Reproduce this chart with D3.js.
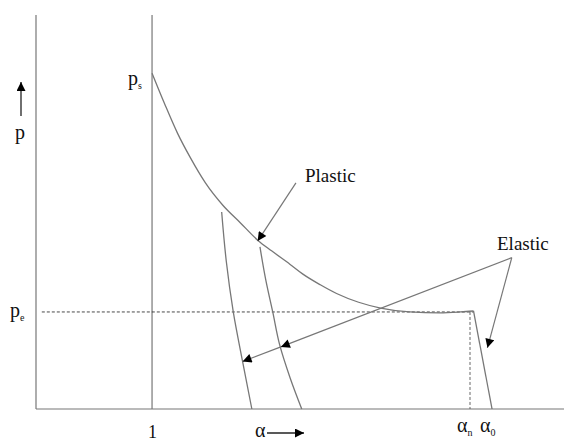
<!DOCTYPE html>
<html>
<head>
<meta charset="utf-8">
<script src="https://cdn.jsdelivr.net/npm/d3@7"></script>
<style>
  body { margin: 0; background: #fff; }
  text { font-family: "Liberation Serif", "Times New Roman", serif; fill: #111; }
</style>
</head>
<body>
<script>

var width = 565,
    height = 441;

// plastic loading curve (alpha, p)
var plasticAlpha = [1.00, 1.11, 1.22, 1.33, 1.46, 1.61, 1.76, 1.91, 2.03, 2.19, 2.30, 2.45, 2.59, 2.78, 2.97, 3.22, 3.48, 3.66, 3.77];
var plasticP     = [3.46, 3.14, 2.84, 2.59, 2.33, 2.10, 1.92, 1.74, 1.63, 1.49, 1.39, 1.28, 1.19, 1.10, 1.04, 1.00, 0.99, 1.00, 1.01];

// elastic unloading curves
var unload1Alpha = [1.60, 1.64, 1.70, 1.78, 1.86];
var unload1P     = [2.03, 1.52, 1.00, 0.49, 0.00];
var unload2Alpha = [1.93, 1.98, 2.04, 2.10, 2.19, 2.29];
var unload2P     = [1.67, 1.33, 1.00, 0.66, 0.32, 0.00];
var unload3Alpha = [3.77, 3.93];
var unload3P     = [1.01, 0.00];

var pE = 1.0, pS = 3.46, alphaN = 3.74, alphaZero = 3.93;

var x = d3.scaleLinear().domain([0, 4.55]).range([36, 564]);
var y = d3.scaleLinear().domain([0, 4.06]).range([409, 15]);

var svg = d3.select("body").append("svg")
    .attr("width", width)
    .attr("height", height);

svg.append("defs").append("marker")
    .attr("id", "head")
    .attr("viewBox", "0 0 10 10")
    .attr("refX", 10).attr("refY", 5)
    .attr("markerWidth", 11).attr("markerHeight", 9)
    .attr("markerUnits", "userSpaceOnUse")
    .attr("orient", "auto")
  .append("path")
    .attr("d", "M0,0L10,5L0,10Z")
    .attr("fill", "#000");

var stroke = "#777";

function zip(a, b) { return a.map(function(v, i) { return [v, b[i]]; }); }

var line = d3.line()
    .x(function(d) { return x(d[0]); })
    .y(function(d) { return y(d[1]); })
    .curve(d3.curveMonotoneX);

var line2 = d3.line()
    .x(function(d) { return x(d[0]); })
    .y(function(d) { return y(d[1]); })
    .curve(d3.curveMonotoneY);

// axes
svg.append("line").attr("x1", x(0)).attr("x2", x(4.55)).attr("y1", y(0)).attr("y2", y(0))
    .attr("stroke", stroke).attr("stroke-width", 1.2);
svg.append("line").attr("x1", x(0)).attr("x2", x(0)).attr("y1", y(0)).attr("y2", y(4.06))
    .attr("stroke", stroke).attr("stroke-width", 1.2);
svg.append("line").attr("x1", x(1)).attr("x2", x(1)).attr("y1", y(0)).attr("y2", y(4.06))
    .attr("stroke", stroke).attr("stroke-width", 1.2);

// dashed p_e and alpha_n guides
svg.append("line").attr("x1", x(0.05)).attr("x2", x(3.77)).attr("y1", y(pE)).attr("y2", y(pE))
    .attr("stroke", "#333").attr("stroke-width", 0.9).attr("stroke-dasharray", "3,2");
svg.append("line").attr("x1", x(alphaN)).attr("x2", x(alphaN)).attr("y1", y(pE)).attr("y2", y(0))
    .attr("stroke", "#555").attr("stroke-width", 0.9).attr("stroke-dasharray", "3,2");

svg.append("path").datum(zip(plasticAlpha, plasticP))
    .attr("d", line)
    .attr("fill", "none")
    .attr("stroke", stroke)
    .attr("stroke-width", 1.3);

[zip(unload1Alpha, unload1P), zip(unload2Alpha, unload2P), zip(unload3Alpha, unload3P)]
  .forEach(function(d) {
    svg.append("path").datum(d)
        .attr("d", line2)
        .attr("fill", "none")
        .attr("stroke", stroke)
        .attr("stroke-width", 1.3);
  });

// annotation arrows
function arrow(a0, p0, a1, p1) {
  svg.append("line")
      .attr("x1", x(a0)).attr("y1", y(p0))
      .attr("x2", x(a1)).attr("y2", y(p1))
      .attr("stroke", stroke).attr("stroke-width", 1.2)
      .attr("marker-end", "url(#head)");
}
arrow(2.24, 2.33, 1.91, 1.73);
arrow(4.10, 1.56, 2.11, 0.64);
arrow(2.11, 0.64, 1.78, 0.49);
arrow(4.10, 1.56, 3.89, 0.63);

// labels
function label(tx, ty, main, sub, size) {
  var t = svg.append("text").attr("x", tx).attr("y", ty).style("font-size", size + "px");
  t.append("tspan").text(main);
  if (sub) t.append("tspan").attr("dy", 4).style("font-size", "10px").text(sub);
}
label(x(1) - 24, y(pS) + 12, "p", "s", 20);
label(x(0) - 26, y(pE) + 5, "p", "e", 20);
label(15, 139, "p", null, 20);
label(x(1) - 4, 438, "1", null, 18);
label(x(alphaN) - 13, 432, "α", "n", 20);
label(x(alphaZero) - 12, 432, "α", "0", 20);
label(255, 437, "α", null, 20);
label(305, 182, "Plastic", null, 19);
label(497, 250, "Elastic", null, 19);

// p and alpha direction arrows
svg.append("line").attr("x1", 21).attr("y1", 116).attr("x2", 21).attr("y2", 82)
    .attr("stroke", "#222").attr("stroke-width", 1.3).attr("marker-end", "url(#head)");
svg.append("line").attr("x1", 267).attr("y1", 433).attr("x2", 304).attr("y2", 433)
    .attr("stroke", "#222").attr("stroke-width", 1.3).attr("marker-end", "url(#head)");

</script>
</body>
</html>
